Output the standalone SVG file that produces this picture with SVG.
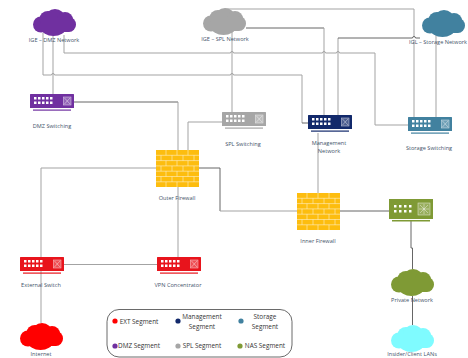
<svg xmlns="http://www.w3.org/2000/svg" width="468" height="358" viewBox="0 0 468 358">
<style>
text{font-family:"Open Sans","Liberation Sans",sans-serif}
.l{font-size:5.6px;fill:#44546a;text-anchor:middle}
.g{font-size:6.4px;fill:#333;text-anchor:middle}
.c{fill:none;stroke:#a3a3a3;stroke-width:1}
.d{fill:none;stroke:#666;stroke-width:1}
.p{fill:#fff}
.b{fill:none;stroke:#fff;stroke-width:.7;stroke-opacity:.65}
</style>
<defs>
<g id="cloud">
<ellipse cx="8" cy="15.500" rx="8" ry="8"/>
<ellipse cx="15" cy="10" rx="8.500" ry="8"/>
<ellipse cx="22" cy="9" rx="10" ry="9"/>
<ellipse cx="32" cy="10.500" rx="8" ry="7.500"/>
<ellipse cx="36" cy="15.500" rx="7" ry="7.500"/>
<ellipse cx="20.500" cy="19.500" rx="12" ry="7.500"/>
<rect x="8" y="9" width="28" height="14"/>
</g>
<g id="switch">
<rect x="0" y="0" width="44" height="14" rx=".6"/>
<g class="p">
<rect x="4" y="3" width="2.500" height="2.500"/><rect x="8" y="3" width="2.500" height="2.500"/><rect x="12" y="3" width="2.500" height="2.500"/><rect x="16" y="3" width="2.500" height="2.500"/><rect x="20" y="3" width="2.500" height="2.500"/>
<rect x="4" y="7.500" width="2.500" height="2.500"/><rect x="8" y="7.500" width="2.500" height="2.500"/><rect x="12" y="7.500" width="2.500" height="2.500"/><rect x="16" y="7.500" width="2.500" height="2.500"/><rect x="20" y="7.500" width="2.500" height="2.500"/>
</g>
<rect x="33.500" y="3" width="7.500" height="8" fill="#fff" fill-opacity=".25" stroke="#fff" stroke-width=".6" stroke-opacity=".7"/>
<path d="M34.500 4L40 10M40 4L34.500 10" stroke="#fff" stroke-width=".6" stroke-opacity=".7" fill="none"/>
<rect x="3" y="15.500" width="38" height="1.200"/>
</g>
<g id="firewall">
<rect x="0" y="0" width="43" height="37" fill="#fdbd0f"/>
<path class="b" d="M0 5.300H43M0 10.600H43M0 15.900H43M0 21.200H43M0 26.500H43M0 31.800H43M10 0V5.300M21 0V5.300M32 0V5.300M5 5.300V10.600M16 5.300V10.600M27 5.300V10.600M38 5.300V10.600M10 10.600V15.900M21 10.600V15.900M32 10.600V15.900M5 15.900V21.200M16 15.900V21.200M27 15.900V21.200M38 15.900V21.200M10 21.200V26.500M21 21.200V26.500M32 21.200V26.500M5 26.500V31.800M16 26.500V31.800M27 26.500V31.800M38 26.500V31.800M10 31.800V37M21 31.800V37M32 31.800V37"/>
</g>
</defs>
<rect width="468" height="358" fill="#fff"/>
<g id="connectors">
<path class="c" d="M43 33V75H51.500A1.500 1.500 0 0 1 54.500 75H230.500A1.500 1.500 0 0 1 233.500 75H302V123"/><path class="d" d="M302 123H308"/>
<path class="c" d="M53 35V95"/>
<path class="c" d="M64 35V53H230.500A1.500 1.500 0 0 1 233.500 53H322.500A1.500 1.500 0 0 1 325.500 53H336.500A1.500 1.500 0 0 1 339.500 53H375V125H408"/>
<path class="c" d="M232 30V113"/>
<path class="c" d="M225 9H414V36.500"/><path class="c" d="M414 39.500V117"/>
<path class="d" d="M246 28H324"/><path class="c" d="M324 28V116"/>
<path class="c" d="M338 116V38"/><path class="d" d="M338 38H412.500A1.500 1.500 0 0 1 415.500 38H420"/>
<path class="c" d="M436 32V117"/>
<path class="c" d="M318 133V193"/>
<path class="d" d="M74 102H178"/><path class="c" d="M178 102V150"/>
<path class="c" d="M188 150V122H222"/>
<path class="c" d="M156 168H41V323"/>
<path class="d" d="M199 168H220V211"/><path class="c" d="M220 211H297"/>
<path class="c" d="M178 187V257"/>
<path class="c" d="M63 264.500H157"/>
<path class="d" d="M339 211H389"/>
<path class="d" d="M411 221V248H412.500V269"/>
<path class="d" d="M412.500 296V325"/>
</g>
<g id="dmz-cloud" fill="#7030a0"><use href="#cloud" x="33" y="9"/><text class="l" x="54" y="42">IGE – DMZ Network</text></g>
<g id="spl-cloud" fill="#a6a6a6"><use href="#cloud" x="203" y="8"/><text class="l" x="225" y="41">IGE – SPL Network</text></g>
<g id="storage-cloud" fill="#41819f"><use href="#cloud" x="422" y="10"/><text class="l" x="467" y="44" style="text-anchor:end">IGL – Storage Network</text></g>
<g id="dmz-switch" fill="#7030a0"><use href="#switch" x="30" y="94"/><text class="l" x="52" y="128">DMZ Switching</text></g>
<g id="spl-switch" fill="#a6a6a6"><use href="#switch" x="222" y="112"/><text class="l" x="243" y="146">SPL Switching</text></g>
<g id="mgmt-switch" fill="#12296b"><use href="#switch" x="308" y="115"/><text class="l" x="329" y="145">Management</text><text class="l" x="329" y="153">Network</text></g>
<g id="storage-switch" fill="#41819f"><use href="#switch" x="408" y="117"/><text class="l" x="429" y="150">Storage Switching</text></g>
<g id="outer-firewall"><use href="#firewall" x="156" y="150"/><text class="l" x="177" y="200">Outer Firewall</text></g>
<g id="inner-firewall"><use href="#firewall" x="297" y="193"/><text class="l" x="318" y="243">Inner Firewall</text></g>
<g id="nas-switch" fill="#7f9a35">
<rect x="389" y="199" width="44" height="20"/>
<g fill="#fff"><rect x="394" y="205" width="2.500" height="2.500"/><rect x="399" y="205" width="2.500" height="2.500"/><rect x="404" y="205" width="2.500" height="2.500"/><rect x="409" y="205" width="2.500" height="2.500"/><rect x="394" y="210" width="2.500" height="2.500"/><rect x="399" y="210" width="2.500" height="2.500"/><rect x="404" y="210" width="2.500" height="2.500"/><rect x="409" y="210" width="2.500" height="2.500"/></g>
<rect x="418" y="203" width="12" height="12" fill="#fff" fill-opacity=".2" stroke="#fff" stroke-width=".6" stroke-opacity=".7"/>
<path d="M424 204V214M419 209H429M420 205L428 213M428 205L420 213" stroke="#fff" stroke-width=".6" stroke-opacity=".7" fill="none"/>
<rect x="392" y="220" width="38" height="1.500"/>
</g>
<g id="external-switch" fill="#e8141c"><use href="#switch" x="20" y="257"/><text class="l" x="41" y="287">External Switch</text></g>
<g id="vpn" fill="#e8141c"><use href="#switch" x="157" y="257"/><text class="l" x="178" y="287">VPN Concentrator</text></g>
<g id="internet" fill="#ff0000"><use href="#cloud" x="20" y="323"/><text class="l" x="41" y="356">Internet</text></g>
<g id="private" fill="#7f9a35"><use href="#cloud" x="391" y="269"/><text class="l" x="412" y="302">Private Network</text></g>
<g id="client" fill="#7ffbff"><use href="#cloud" x="391" y="325"/><text class="l" x="412" y="356">Insider/Client LANs</text></g>
<g id="legend">
<rect x="107" y="309.500" width="185" height="47.500" rx="12" fill="#fff" stroke="#444" stroke-width=".8"/>
<circle cx="115" cy="321" r="2.600" fill="#ff0000"/><text class="g" x="139" y="323.500">EXT Segment</text>
<circle cx="178" cy="321" r="2.600" fill="#12296b"/><text class="g" x="202" y="319">Management</text><text class="g" x="202" y="328.500">Segment</text>
<circle cx="241" cy="321" r="2.600" fill="#41819f"/><text class="g" x="265" y="319">Storage</text><text class="g" x="265" y="328.500">Segment</text>
<circle cx="115" cy="346" r="2.600" fill="#7030a0"/><text class="g" x="139" y="348">DMZ Segment</text>
<circle cx="178" cy="346" r="2.600" fill="#a6a6a6"/><text class="g" x="202" y="348">SPL Segment</text>
<circle cx="240" cy="346" r="2.600" fill="#7f9a35"/><text class="g" x="265" y="348">NAS Segment</text>
</g>
</svg>
